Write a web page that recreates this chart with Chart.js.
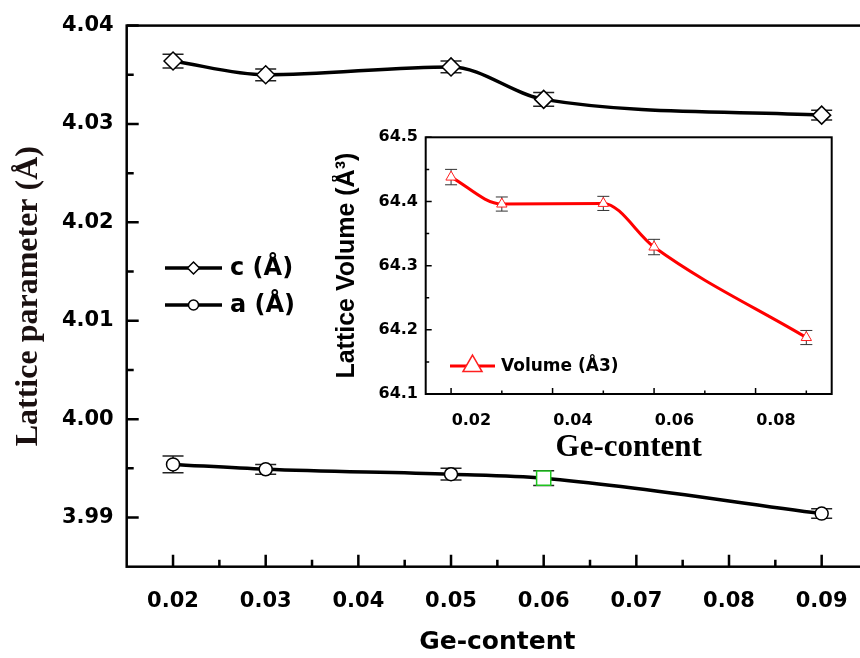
<!DOCTYPE html>
<html>
<head>
<meta charset="utf-8">
<script src="https://cdn.jsdelivr.net/npm/chart.js@4.4.1/dist/chart.umd.min.js"></script>
<style>
  html, body { margin: 0; padding: 0; background: #fff; overflow: hidden; }
  #wrap { position: relative; width: 860px; height: 658px; overflow: hidden; background: #fff; }
  #mainChart { position: absolute; left: 0; top: 0; }
  #insetChart { position: absolute; left: 332px; top: 120px; }
</style>
</head>
<body>
<div id="wrap">
  <canvas id="mainChart" width="880" height="658"></canvas>
  <canvas id="insetChart" width="510" height="345"></canvas>
</div>
<script>
// ---- main plot data: lattice parameters vs Ge-content ----
const geContent = [0.02, 0.03, 0.05, 0.06, 0.09];
const cValues = [4.0364, 4.0350, 4.0358, 4.0325, 4.0309];
const cErrors = [0.0007, 0.0006, 0.0006, 0.0007, 0.0005];
const aValues = [3.9954, 3.9949, 3.9944, 3.9940, 3.9904];
const aErrors = [0.00085, 0.0005, 0.0006, 0.00075, 0.00048];

const mainXTicks = [0.02, 0.03, 0.04, 0.05, 0.06, 0.07, 0.08, 0.09];
const mainXMinor = [0.025, 0.035, 0.045, 0.055, 0.065, 0.075, 0.085];
const mainYTicks = [3.99, 4.00, 4.01, 4.02, 4.03, 4.04];
const mainYMinor = [3.995, 4.005, 4.015, 4.025, 4.035];

// ---- inset data: cell volume ----
const insetGe = [0.016, 0.026, 0.046, 0.056, 0.086];
const volumeValues = [64.438, 64.396, 64.397, 64.329, 64.188];
const volumeErrors = [0.012, 0.011, 0.011, 0.012, 0.011];

const insetXTicks = [0.02, 0.04, 0.06, 0.08];
const insetXMarks = [0.016, 0.036, 0.056, 0.076];
const insetXMinor = [0.026, 0.046, 0.066, 0.086];
const insetYTicks = [64.1, 64.2, 64.3, 64.4, 64.5];
const insetYMinor = [64.15, 64.25, 64.35, 64.45];

const sansBold = (size) => ({ family: 'DejaVu Sans', size: size, weight: 'bold' });

// draws vertical error bars with caps, under the markers
const errorBars = {
  id: 'errorBars',
  beforeDatasetsDraw(chart) {
    const ctx = chart.ctx;
    const yScale = chart.scales.y;
    chart.data.datasets.forEach((ds, i) => {
      if (!ds.errors) return;
      const meta = chart.getDatasetMeta(i);
      ctx.save();
      ctx.strokeStyle = ds.errorColor;
      ctx.lineWidth = ds.errorWidth;
      meta.data.forEach((pt, j) => {
        const v = ds.data[j].y, e = ds.errors[j];
        const top = yScale.getPixelForValue(v + e);
        const bot = yScale.getPixelForValue(v - e);
        ctx.beginPath();
        ctx.moveTo(pt.x, top); ctx.lineTo(pt.x, bot);
        ctx.moveTo(pt.x - ds.capHalf, top); ctx.lineTo(pt.x + ds.capHalf, top);
        ctx.moveTo(pt.x - ds.capHalf, bot); ctx.lineTo(pt.x + ds.capHalf, bot);
        ctx.stroke();
      });
      ctx.restore();
    });
  }
};

// box round the plot area plus inward tick marks (Origin style)
function makeFrame(cfg) {
  return {
    id: 'axisFrame',
    beforeDatasetsDraw(chart) {
      const { ctx, chartArea: a, scales: { x, y } } = chart;
      ctx.save();
      ctx.strokeStyle = '#000';
      ctx.lineWidth = cfg.width;
      ctx.strokeRect(a.left, a.top, a.right - a.left, a.bottom - a.top);
      ctx.lineWidth = cfg.tickWidth;
      ctx.beginPath();
      const xMark = (v, len) => { const p = x.getPixelForValue(v); ctx.moveTo(p, a.bottom); ctx.lineTo(p, a.bottom - len); };
      const yMark = (v, len) => { const p = y.getPixelForValue(v); ctx.moveTo(a.left, p); ctx.lineTo(a.left + len, p); };
      cfg.xMajor.forEach(v => xMark(v, cfg.majorLen));
      cfg.xMinor.forEach(v => xMark(v, cfg.minorLen));
      cfg.yMajor.forEach(v => yMark(v, cfg.majorLen));
      cfg.yMinor.forEach(v => yMark(v, cfg.minorLen));
      ctx.stroke();
      ctx.restore();
    }
  };
}

// legend drawn inside the plot area
function makeLegend(cfg) {
  return {
    id: 'insideLegend',
    afterDatasetsDraw(chart) {
      const ctx = chart.ctx;
      ctx.save();
      chart.data.datasets.forEach((ds, i) => {
        const yy = cfg.y + i * cfg.gap;
        ctx.strokeStyle = ds.borderColor;
        ctx.lineWidth = ds.borderWidth;
        ctx.beginPath();
        ctx.moveTo(cfg.x, yy);
        ctx.lineTo(cfg.x + cfg.lineLen, yy);
        ctx.stroke();
        const style = Array.isArray(ds.pointStyle) ? ds.pointStyle[0] : ds.pointStyle;
        const border = Array.isArray(ds.pointBorderColor) ? ds.pointBorderColor[0] : ds.pointBorderColor;
        ctx.fillStyle = '#fff';
        ctx.strokeStyle = border;
        ctx.lineWidth = 1.5;
        Chart.helpers.drawPoint(ctx, { pointStyle: style, radius: ds.legendRadius, borderWidth: 1.5, rotation: 0 },
          cfg.x + cfg.lineLen / 2, yy);
        ctx.fillStyle = '#000';
        ctx.font = cfg.font;
        ctx.textBaseline = 'middle';
        ctx.fillText(ds.label, cfg.x + cfg.lineLen + cfg.textGap, yy + 1);
      });
      ctx.restore();
    }
  };
}

// ---------------- main chart ----------------
new Chart(document.getElementById('mainChart'), {
  type: 'line',
  data: {
    datasets: [{
      label: 'c (Å)',
      data: geContent.map((x, i) => ({ x: x, y: cValues[i] })),
      errors: cErrors, errorColor: '#222', errorWidth: 1.5, capHalf: 10.5,
      borderColor: '#000', borderWidth: 3.5, cubicInterpolationMode: 'monotone',
      pointStyle: 'rectRot', pointRadius: 9,
      pointBackgroundColor: '#fff', pointBorderColor: '#000', pointBorderWidth: 1.5,
      legendRadius: 6
    }, {
      label: 'a (Å)',
      data: geContent.map((x, i) => ({ x: x, y: aValues[i] })),
      errors: aErrors, errorColor: '#222', errorWidth: 1.5, capHalf: 10.5,
      borderColor: '#000', borderWidth: 3.5, cubicInterpolationMode: 'monotone',
      pointStyle: ['circle', 'circle', 'circle', 'rect', 'circle'],
      pointRadius: [6.5, 6.5, 6.5, 10, 6.5],
      pointBackgroundColor: '#fff',
      pointBorderColor: ['#000', '#000', '#000', '#1fc41f', '#000'],
      pointBorderWidth: 1.5,
      legendRadius: 5
    }]
  },
  options: {
    responsive: false,
    animation: false,
    layout: { padding: { top: 22.5, right: 12 } },
    plugins: { legend: { display: false }, tooltip: { enabled: false } },
    scales: {
      x: {
        type: 'linear', min: 0.015, max: 0.095,
        afterBuildTicks: (s) => { s.ticks = mainXTicks.map(v => ({ value: v })); },
        afterFit: (s) => { s.height = 91.3; },
        grid: { display: false, drawTicks: false },
        border: { display: false },
        ticks: { padding: 22, color: '#000', font: sansBold(21), maxRotation: 0, autoSkip: false,
                 callback: (v) => v.toFixed(2) },
        title: { display: true, text: 'Ge-content', color: '#000', font: sansBold(25),
                 padding: { top: 0, bottom: 1 } }
      },
      y: {
        type: 'linear', min: 3.985, max: 4.04,
        afterBuildTicks: (s) => { s.ticks = mainYTicks.map(v => ({ value: v })); },
        afterFit: (s) => { s.width = 126.7; },
        grid: { display: false, drawTicks: false },
        border: { display: false },
        ticks: { padding: 13, color: '#000', font: sansBold(21), autoSkip: false,
                 callback: (v) => v.toFixed(2) },
        title: { display: true, text: 'Lattice parameter (Å)', color: '#1a1010',
                 font: { family: 'Liberation Serif', size: 32, weight: 'bold', lineHeight: 1.1 },
                 padding: { top: 11, bottom: 0 } }
      }
    }
  },
  plugins: [
    errorBars,
    makeFrame({ width: 2.5, tickWidth: 2.5, majorLen: 12, minorLen: 7,
                xMajor: mainXTicks, xMinor: mainXMinor, yMajor: mainYTicks, yMinor: mainYMinor }),
    makeLegend({ x: 165, y: 268, gap: 37, lineLen: 57, textGap: 8, font: 'bold 24px "DejaVu Sans"' })
  ]
});

// ---------------- inset chart ----------------
new Chart(document.getElementById('insetChart'), {
  type: 'line',
  data: {
    datasets: [{
      label: 'Volume (Å3)',
      data: insetGe.map((x, i) => ({ x: x, y: volumeValues[i] })),
      errors: volumeErrors, errorColor: '#333', errorWidth: 1, capHalf: 6,
      borderColor: '#ff0000', borderWidth: 3, cubicInterpolationMode: 'monotone',
      pointStyle: 'triangle', pointRadius: 6,
      pointBackgroundColor: '#fff', pointBorderColor: '#ff2020', pointBorderWidth: 1,
      legendRadius: 11
    }]
  },
  options: {
    responsive: false,
    animation: false,
    layout: { padding: { top: 16, right: 10.3 } },
    plugins: { legend: { display: false }, tooltip: { enabled: false } },
    scales: {
      x: {
        type: 'linear', min: 0.011, max: 0.091,
        afterBuildTicks: (s) => { s.ticks = insetXTicks.map(v => ({ value: v })); },
        afterFit: (s) => { s.height = 71; },
        grid: { display: false, drawTicks: false },
        border: { display: false },
        ticks: { padding: 17, color: '#000', font: sansBold(16), maxRotation: 0, autoSkip: false,
                 callback: (v) => v.toFixed(2) },
        title: { display: true, text: 'Ge-content', color: '#000',
                 font: { family: 'Liberation Serif', size: 31, weight: 'bold', lineHeight: 1.0 },
                 padding: { top: 0, bottom: 2 } }
      },
      y: {
        type: 'linear', min: 64.1, max: 64.5,
        afterBuildTicks: (s) => { s.ticks = insetYTicks.map(v => ({ value: v })); },
        afterFit: (s) => { s.width = 93.7; },
        grid: { display: false, drawTicks: false },
        border: { display: false },
        ticks: { padding: 7.7, color: '#000', font: sansBold(16), autoSkip: false,
                 callback: (v) => v.toFixed(1) },
        title: { display: true, text: 'Lattice Volume (Å³)', color: '#000',
                 font: { family: 'Liberation Sans', size: 25, weight: 'bold', lineHeight: 1.0 },
                 padding: { top: 2.5, bottom: 0 } }
      }
    }
  },
  plugins: [
    errorBars,
    makeFrame({ width: 2, tickWidth: 1.5, majorLen: 6, minorLen: 3.5,
                xMajor: insetXMarks, xMinor: insetXMinor, yMajor: insetYTicks, yMinor: insetYMinor }),
    makeLegend({ x: 118, y: 246, gap: 0, lineLen: 45, textGap: 6, font: 'bold 17px "DejaVu Sans"' })
  ]
});
</script>
</body>
</html>
